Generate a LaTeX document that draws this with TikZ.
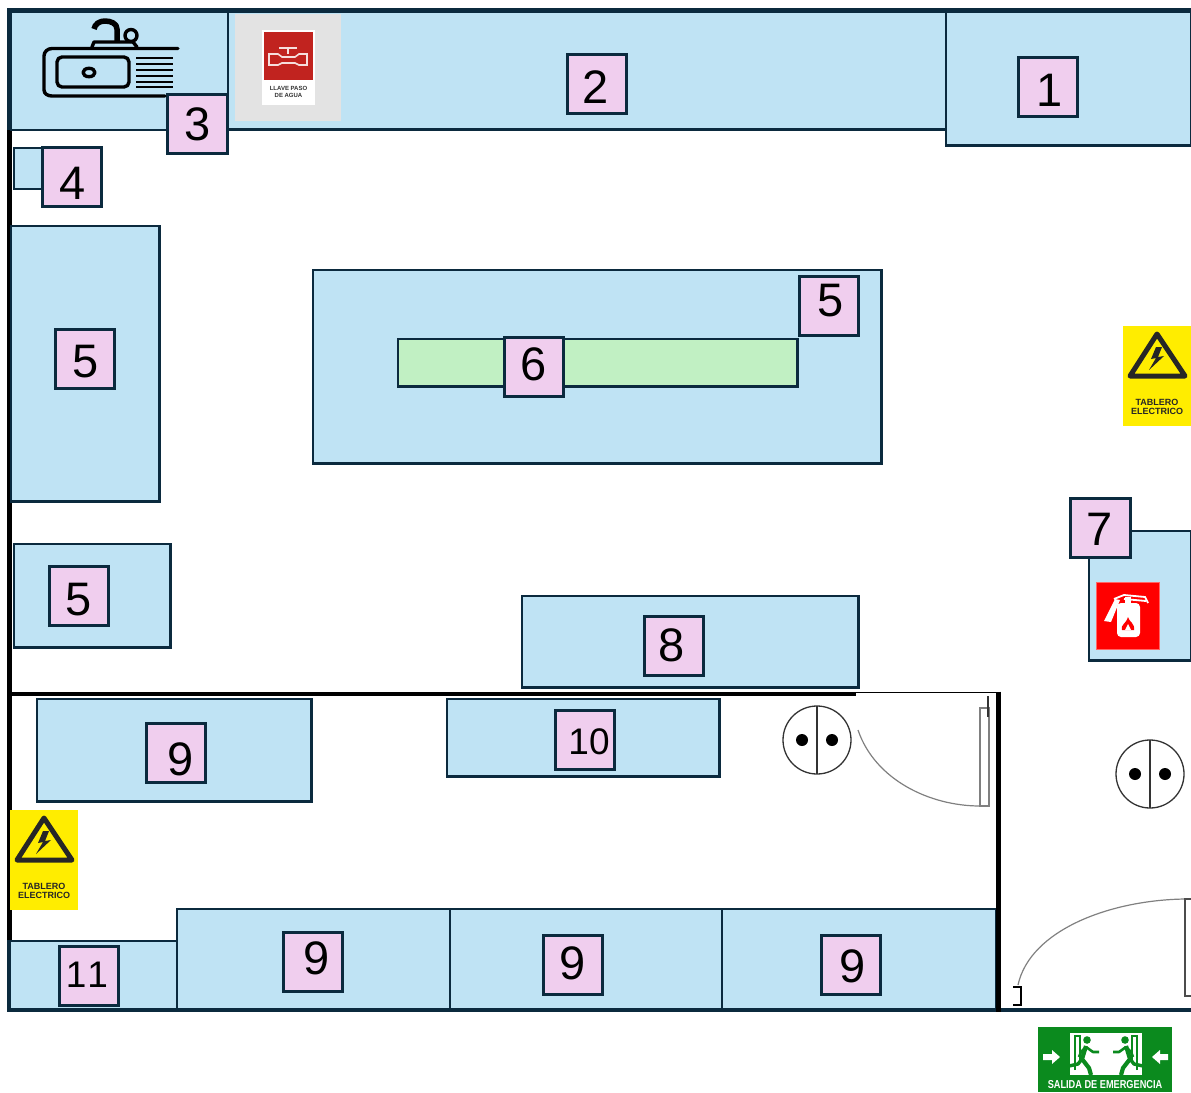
\documentclass[tikz,border=0pt]{standalone}
\usepackage{fontspec}
\setmainfont{Liberation Sans}
\usetikzlibrary{positioning}
\definecolor{wallc}{HTML}{0B2A3E}
\definecolor{benchc}{HTML}{BFE3F4}
\definecolor{tagc}{HTML}{F0CEEE}
\definecolor{stripc}{HTML}{C1F0C3}
\definecolor{warnc}{HTML}{FFED00}
\definecolor{exitc}{HTML}{0B8A1E}
\definecolor{valvec}{HTML}{C1231F}
\tikzset{
  bench/.style={draw=wallc, fill=benchc, line width=2.7pt, outer sep=0, inner sep=0, anchor=north west},
  tag/.style={draw=wallc, fill=tagc, line width=3pt, outer sep=0, inner sep=0,
    minimum width=59.5pt, minimum height=59.5pt},
  digit/.style={inner sep=0, font=\fontsize{47}{47}\selectfont},
  smalldigit/.style={inner sep=0, font=\fontsize{37}{37}\selectfont},
  sink/.style={draw=black, line width=3.4pt, line cap=round, line join=round},
  door/.style={draw=black!50, line width=1.2pt},
  plug/.style={draw=black!80, line width=1.3pt},
  pics/tablero/.style={code={
    \fill[warnc] (0,0) rectangle (68,100);
    \draw[black!85, line width=5pt, line join=round] (34,8) -- (7,50) -- (62,50) -- cycle;
    \fill[black!85] (33,21) -- (28,33) -- (33,32) -- (26,44) -- (41,30) -- (35,31) -- (39,21) -- cycle;
    \node[align=center, inner sep=0, text=black!85, font=\fontsize{9}{8.8}\selectfont\bfseries] (-txt) at (34,81) {TABLERO\\ELECTRICO};
  }},
  pics/tomacorr/.style={code={
    \draw[plug, fill=white] (0,0) circle (34);
    \draw[plug] (0,-34) -- (0,34);
    \fill (-15,0) circle (6);
    \fill (15,0) circle (6);
  }},
  pics/runner/.style={code={
    \fill[exitc] (0,-17) circle (3.8);
    \draw[exitc, line width=4.2pt, line join=round] (-1,-11) -- (-5,2) -- (2,11) -- (4,18);
    \draw[exitc, line width=3.4pt, line join=round] (-5,2) -- (-9,7) -- (-18,9);
    \draw[exitc, line width=2.6pt, line join=round] (-1,-10) -- (6,-5) -- (12,-5);
    \draw[exitc, line width=2.6pt, line join=round] (-1,-10) -- (-6,-5) -- (-8,0);
  }}
}
\begin{document}
\begin{tikzpicture}[x=1pt, y=-1pt]
  \useasboundingbox (0,0) rectangle (1191,1092);
  % walls
  \draw[wallc, line width=5pt] (7,10.5) -- (1191,10.5);
  \draw[wallc, line width=5pt] (9.5,8) -- (9.5,1012);
  \draw[black, line width=5pt] (9.5,130) -- (9.5,940);
  \draw[black, line width=4pt] (9,693.5) -- (856,693.5);
  \draw[black, line width=1.3pt] (856,692.3) -- (998,692.3);
  % furniture
  \foreach \name/\x/\y/\w/\h in {sinkb/11/12/217/118, top/228/12/718/117.5, corner/946/12/245/133.5,
      shelf/14/148/28/41, leftb/11/226/148.5/275.5, lowb/14/544/156.5/103.5, island/313/270/568.5/193.5,
      front/522/596/336.5/91.5, cabinet/1089/531/102/129.5, laba/37/699/274.5/102.5, labb/447/699/272.5/77.5,
      labc/177/909/273/101, labd/450/909/272/101, labe/722/909/274/101, boxb/10/941/167/69}
    \node[bench, minimum width=\w pt, minimum height=\h pt] (\name) at (\x,\y) {};
  \node[bench, fill=stripc, minimum width=399.5pt, minimum height=47.5pt] (strip) at (398,339) {};
  \draw[wallc, line width=4pt] (7,1010) -- (1191,1010);
  \draw[black, line width=4.5pt] (998.5,691.5) -- (998.5,1012);
  % numbers
  \foreach \name/\x/\y/\dx/\dy/\lab in {t1/1048/87/2/3/1, t2/597/84/-1/3/2, t3/197.5/124/0/0/3, t4/72/177/1/6/4,
      t5a/829/306/2/-5/5, t5b/85/359/1/3/5, t5c/79/596/0/4/5, t6/534/367/0/-3/6, t7/1100.5/528/-1/1/7,
      t8/674/646/-2/-1/8, t9a/176/753/5/6/9, t9b/313/962/4/-4/9, t9c/573/965/0/-2/9, t9d/851/965/2/1/9} {
    \node[tag] (\name) at (\x,\y) {};
    \node[digit] (\name n) at ([shift={(\dx,\dy)}]\name.center) {\lab};
  }
  \node[tag] (t10) at (585,740) {};
  \node[smalldigit] (t10n) at ([shift={(4,2)}]t10.center) {10};
  \node[tag] (t11) at (89,976) {};
  \node[smalldigit] (t11n) at ([shift={(-2,-1)}]t11.center) {1\kern1pt 1};
  % sink
  \draw[sink] (178,48.5) -- (52,48.5) to[out=180,in=90] (44,56) -- (44,90) to[out=-90,in=180] (52,96) -- (165,96);
  \draw[sink, rounded corners=5pt] (57,57) rectangle (129,87);
  \draw[sink] (89,72.5) ellipse (6 and 4.2);
  \foreach \y in {58,64,70,76,82,87}
    \draw[sink, line width=2.8pt, line cap=butt] (136,\y) -- (173,\y);
  \draw[sink] (92,47) -- (94,42) -- (133,42) -- (137,47);
  \draw[sink, line width=5.5pt, line cap=butt] (117,42) -- (117,29) to[out=90,in=0] (105,21) to[out=180,in=80] (94,29);
  \draw[sink] (131,35.5) circle (6);
  % water valve sign
  \fill[black!11] (235,14) rectangle (341,121);
  \fill[white] (262,30) rectangle (315,105);
  \fill[valvec] (264,32) rectangle (313,80);
  \draw[white!85!valvec, line width=1.6pt] (279,48) -- (297,48) (288,48) -- (288,54);
  \draw[white!85!valvec, line width=1.6pt] (269,54) -- (278,54) -- (282,57) -- (295,57) -- (299,54) -- (307,54)
    -- (307,65) -- (299,65) -- (295,63) -- (282,63) -- (278,65) -- (269,65) -- cycle;
  \node[align=center, inner sep=0, text=black!80, font=\fontsize{6}{6.2}\selectfont\bfseries] (valvetxt) at (288.5,92) {LLAVE PASO\\DE AGUA};
  % electric panels
  \pic (panela) at (1123,326) {tablero};
  \pic (panelb) at (10,810) {tablero};
  % extinguisher
  \draw[red!60, fill=red, line width=1pt] (1096,582) rectangle (1159,649);
  \fill[white, rounded corners=4pt] (1117,637) rectangle (1140,603);
  \fill[white] (1104,621) -- (1111,622) -- (1120,600) -- (1115,599) -- cycle;
  \fill[white] (1125,597) rectangle (1131,604);
  \draw[white, line width=1.8pt] (1114,599) -- (1124,595) -- (1145,597) -- (1148,603) (1124,599) -- (1146,601);
  \fill[red] (1128,617) .. controls (1129,622) and (1135,623) .. (1134,630) -- (1122,630) .. controls (1120,625) and (1126,624) .. (1128,617);
  \fill[white] (1128,624) -- (1131,630) -- (1125,630) -- cycle;
  % doors
  \draw[door, fill=white] (980,708) rectangle (989,806);
  \draw[black!80, line width=1.2pt] (988,696) -- (988,717);
  \draw[door] (858,730) .. controls (875,780) and (930,806) .. (980,806);
  \draw[door] (1018,985) .. controls (1030,930) and (1110,900) .. (1185,899);
  \draw[black!70, line width=1.2pt] (1192,899) -- (1185,899) -- (1185,996) -- (1192,996);
  \draw[black, line width=1.8pt] (1013,987) -- (1021,987) -- (1021,1005) -- (1013,1005);
  % plugs
  \pic (pluga) at (817,740) {tomacorr};
  \pic (plugb) at (1150,774) {tomacorr};
  % exit sign
  \fill[exitc] (1038,1027) rectangle (1172,1092);
  \fill[white] (1070,1033) rectangle (1142,1075);
  \draw[exitc, line width=1.8pt] (1075,1070) -- (1075,1036) -- (1080,1036) -- (1080,1060);
  \draw[exitc, line width=1.8pt] (1137,1070) -- (1137,1036) -- (1132,1036) -- (1132,1060);
  \pic (runa) at (1087,1057) {runner};
  \pic[xscale=-1] (runb) at (1125,1057) {runner};
  \fill[white] (1043,1054) -- (1052,1054) -- (1052,1050) -- (1060,1057) -- (1052,1064) -- (1052,1060) -- (1043,1060) -- cycle;
  \fill[white] (1168,1054) -- (1160,1054) -- (1160,1050) -- (1152,1057) -- (1160,1064) -- (1160,1060) -- (1168,1060) -- cycle;
  \node[inner sep=0, text=white, xscale=0.8, font=\fontsize{11.5}{11.5}\selectfont\bfseries] (exittxt) at (1105,1085) {SALIDA DE EMERGENCIA};
\end{tikzpicture}
\end{document}
